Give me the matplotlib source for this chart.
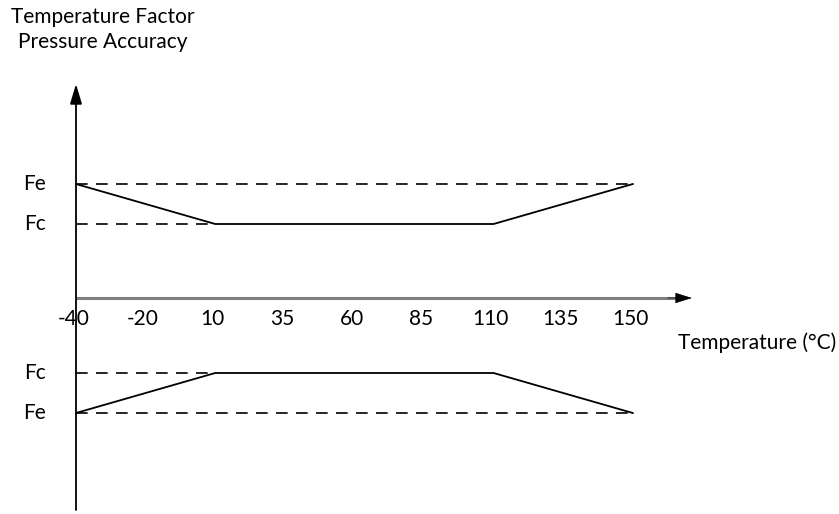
import matplotlib.pyplot as plt

# category axis (evenly spaced, not proportional)
temps = ['-40', '-20', '10', '35', '60', '85', '110', '135', '150']

# curve break points, given as index into temps
curve_x = [0, 2, 6, 8]
fe_top, fc_top = 2.85, 1.85
fe_bot, fc_bot = -2.875, -1.875
upper = [fe_top, fc_top, fc_top, fe_top]
lower = [fe_bot, fc_bot, fc_bot, fe_bot]

plt.rcParams['font.family'] = ['Lato', 'DejaVu Sans']

fig = plt.figure(figsize=(8.39, 5.14), dpi=100)
ax = fig.add_axes([0, 0, 1, 1])
ax.set_xlim(-1.092, 10.963)
ax.set_ylim(-5.4, 7.45)
ax.axis('off')

# x axis: gray line, black arrow head
ax.plot([0, 8.7], [0, 0], color='#808080', lw=2.2, solid_capstyle='butt')
ax.annotate('', xy=(8.85, 0), xytext=(8.5, 0),
            arrowprops=dict(arrowstyle='-|>,head_length=0.54,head_width=0.17',
                            color='black', lw=0.5, mutation_scale=20,
                            shrinkA=0, shrinkB=0))
# y axis
ax.annotate('', xy=(0, 5.35), xytext=(0, -5.3),
            arrowprops=dict(arrowstyle='-|>,head_length=0.6,head_width=0.18',
                            color='black', lw=1.3, mutation_scale=20,
                            shrinkA=0, shrinkB=0))

# dashed reference levels
dash = dict(color='black', lw=1.2, ls=(0, (7, 5)))
ax.plot([0, 8], [fe_top, fe_top], **dash)
ax.plot([0, 2], [fc_top, fc_top], **dash)
ax.plot([0, 2], [fc_bot, fc_bot], **dash)
ax.plot([0, 8], [fe_bot, fe_bot], **dash)

# curves
ax.plot(curve_x, upper, color='black', lw=1.3)
ax.plot(curve_x, lower, color='black', lw=1.3)

fs = 15
for i, t in enumerate(temps):
    ax.text(i - 0.04, -0.52, t, ha='center', va='center', fontsize=fs)

for lab, y in [('Fe', fe_top), ('Fc', fc_top), ('Fc', fc_bot), ('Fe', fe_bot)]:
    ax.text(-0.59, y, lab, ha='center', va='center', fontsize=fs)

ax.text(8.65, -1.12, 'Temperature (°C)', ha='left', va='center', fontsize=fs)
ax.text(0.39, 7.03, 'Temperature Factor', ha='center', va='center', fontsize=fs)
ax.text(0.39, 6.4, 'Pressure Accuracy', ha='center', va='center', fontsize=fs)

fig.savefig('out.png', dpi=100)
